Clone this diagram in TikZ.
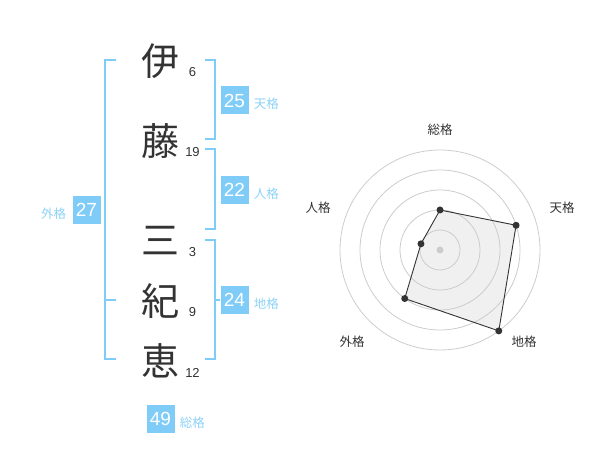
\documentclass[tikz,border=0pt]{standalone}
\usepackage{fontspec}
\setmainfont{Liberation Sans}
\newfontfamily\jp{Noto Sans CJK JP}
\usetikzlibrary{positioning}
\definecolor{kakublue}{HTML}{80CCF8}
\definecolor{kakutext}{HTML}{8CD2F8}
\definecolor{inkgray}{HTML}{333333}
\definecolor{ringgray}{HTML}{CCCCCC}
\definecolor{areagray}{HTML}{F0F0F0}
\begin{document}
\begin{tikzpicture}[x=1pt,y=-1pt]
				\tikzstyle{kanji}=[font=\jp\fontsize{38}{38}\selectfont,text=inkgray,inner sep=0]
				\tikzstyle{kakusu}=[font=\fontsize{13}{13}\selectfont,text=inkgray,inner sep=0]
				\tikzstyle{score}=[fill=kakublue,text=white,minimum size=28pt,inner sep=0,font=\fontsize{19}{19}\selectfont]
				\tikzstyle{kaku}=[font=\jp\fontsize{12.5}{12.5}\selectfont,text=kakutext,inner sep=0]
				\tikzstyle{axislabel}=[font=\jp\fontsize{12.5}{12.5}\selectfont,text=inkgray,inner sep=0]
				\tikzstyle{bracket}=[draw=kakublue,line width=2pt]
				\tikzstyle{vertex}=[circle,fill=inkgray,inner sep=0,minimum size=7pt]
				\useasboundingbox(0,0)rectangle(600,470);
				\node(i)[kanji] at (160,61){伊};
				\node(to)[kanji] at (160,141){藤};
				\node(san)[kanji] at (160,241){三};
				\node(ki)[kanji] at (160,301){紀};
				\node(e)[kanji] at (160,361){恵};
				\node(n-i)[kakusu] at (192.5,72.5){6};
				\node(n-to)[kakusu] at (192.5,152.5){19};
				\node(n-san)[kakusu] at (192.5,252.5){3};
				\node(n-ki)[kakusu] at (192.5,312.5){9};
				\node(n-e)[kakusu] at (192.5,372.5){12};
				\node(ten)[score] at (234.5,100.5){25};
				\node(jin)[score] at (234.5,190){22};
				\node(chi)[score] at (234.5,300){24};
				\node(gai)[score] at (86.5,210){27};
				\node(sou)[score] at (160.5,419){49};
				\node[kaku,right=5pt of ten,yshift=-3.5pt]{天格};
				\node[kaku,right=5pt of jin,yshift=-3.5pt]{人格};
				\node[kaku,right=5pt of chi,yshift=-3.5pt]{地格};
				\node[kaku,left=6pt of gai,yshift=-3.5pt]{外格};
				\node[kaku,right=5pt of sou,yshift=-3.5pt]{総格};
				\draw[bracket](116,60)--(105,60)--(105,359.5)--(116,359.5);
				\draw[bracket](105,300)--(116,300);
				\draw[bracket](205,60)--(214.5,60)--(214.5,139.5)--(205,139.5);
				\draw[bracket](205,149.5)--(214.5,149.5)--(214.5,229)--(205,229);
				\draw[bracket](205,240)--(214.5,240)--(214.5,359.5)--(205,359.5);
				\draw[bracket](214.5,300)--(chi.west);
				\coordinate(c) at (440,250);
				\path(c)++(-90:40)coordinate(p-sou);
				\path(c)++(-18:80)coordinate(p-ten);
				\path(c)++(54:100)coordinate(p-chi);
				\path(c)++(126:60)coordinate(p-gai);
				\path(c)++(198:20)coordinate(p-jin);
				\fill[areagray](p-sou)--(p-ten)--(p-chi)--(p-gai)--(p-jin)--cycle;
				\foreach \r in {20,40,...,100}
					\draw[ringgray,line width=0.8pt](c)circle[radius=\r pt];
				\fill[ringgray](c)circle[radius=3.5pt];
				\draw[inkgray,line width=0.9pt](p-sou)--(p-ten)--(p-chi)--(p-gai)--(p-jin)--cycle;
				\foreach \p in {sou,ten,chi,gai,jin}
					\node(v-\p)[vertex] at (p-\p){};
				\node(l-sou)[axislabel] at (440,130){総格};
				\node(l-ten)[axislabel] at (562,208){天格};
				\node(l-jin)[axislabel] at (318,208){人格};
				\node(l-gai)[axislabel] at (352,342){外格};
				\node(l-chi)[axislabel] at (524,342){地格};
			\end{tikzpicture}
\end{document}
